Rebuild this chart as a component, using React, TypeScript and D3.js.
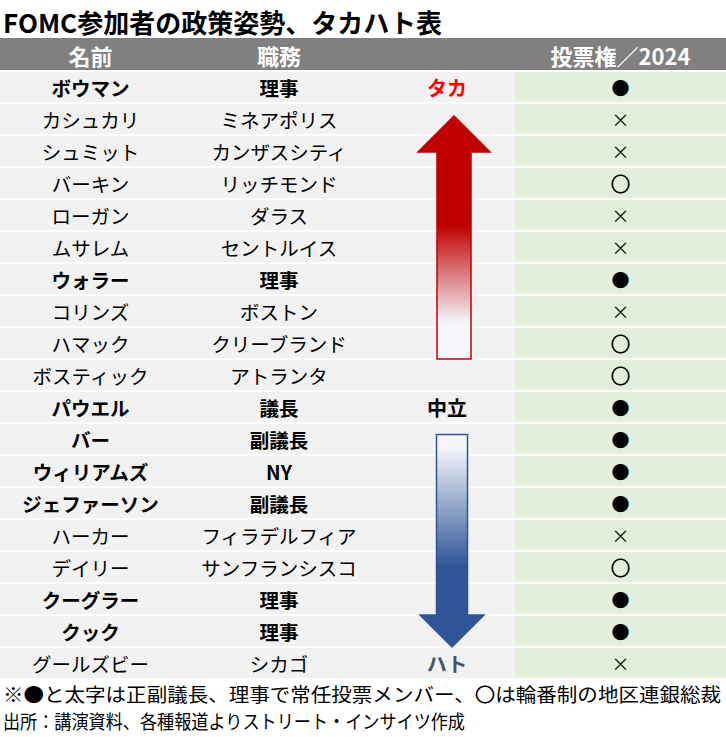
import React from "react";
import * as d3 from "d3";

// table contents
const names = [
  "ボウマン", "カシュカリ", "シュミット", "バーキン", "ローガン", "ムサレム", "ウォラー",
  "コリンズ", "ハマック", "ボスティック", "パウエル", "バー", "ウィリアムズ", "ジェファーソン",
  "ハーカー", "デイリー", "クーグラー", "クック", "グールズビー",
];
const roles = [
  "理事", "ミネアポリス", "カンザスシティ", "リッチモンド", "ダラス", "セントルイス", "理事",
  "ボストン", "クリーブランド", "アトランタ", "議長", "副議長", "NY", "副議長",
  "フィラデルフィア", "サンフランシスコ", "理事", "理事", "シカゴ",
];
const votes = [
  "●", "×", "×", "〇", "×", "×", "●", "×", "〇", "〇",
  "●", "●", "●", "●", "×", "〇", "●", "●", "×",
];
const bold = [
  true, false, false, false, false, false, true, false, false, false,
  true, true, true, true, false, false, true, true, false,
];
const headers = ["名前", "職務", "", "投票権／2024"];
const stances = [
  { row: 0, label: "タカ", color: "#FF0000" },
  { row: 10, label: "中立", color: "#000000" },
  { row: 18, label: "ハト", color: "#44546A" },
];

const W = 726;
const H = 737;
const FONT = "'Noto Sans CJK JP', 'Noto Sans', sans-serif";
const colWidths = [181, 196, 138, 211];
const headerTop = 38;
const headerBottom = 71;
const tableBottom = 679;

export default function App() {
  const colX = d3.cumsum([0, ...colWidths]);
  const col = (i: number) => ({ x0: colX[i], x1: colX[i + 1], cx: (colX[i] + colX[i + 1]) / 2 });

  const y = d3
    .scaleBand<number>()
    .domain(d3.range(names.length))
    .range([headerBottom, tableBottom])
    .padding(0);
  const rh = y.bandwidth();
  const cy = (i: number) => (y(i) as number) + rh / 2;

  // arrows placed in row units
  const upCx = col(2).cx + 8;
  const upTip = (y(1) as number) + 13;
  const upBase = (y(2) as number) + 17;
  const upBottom = y(9) as number;
  const upPath = d3.path();
  upPath.moveTo(upCx, upTip);
  upPath.lineTo(upCx + 36, upBase);
  upPath.lineTo(upCx + 17, upBase);
  upPath.lineTo(upCx + 17, upBottom);
  upPath.lineTo(upCx - 17, upBottom);
  upPath.lineTo(upCx - 17, upBase);
  upPath.lineTo(upCx - 36, upBase);
  upPath.closePath();

  const dnCx = col(2).cx + 6;
  const dnTop = (y(11) as number) + 11.5;
  const dnBase = y(17) as number;
  const dnTip = y(18) as number;
  const dnPath = d3.path();
  dnPath.moveTo(dnCx - 15.5, dnTop);
  dnPath.lineTo(dnCx + 15.5, dnTop);
  dnPath.lineTo(dnCx + 15.5, dnBase);
  dnPath.lineTo(dnCx + 32, dnBase);
  dnPath.lineTo(dnCx, dnTip);
  dnPath.lineTo(dnCx - 32, dnBase);
  dnPath.lineTo(dnCx - 15.5, dnBase);
  dnPath.closePath();

  return (
    <svg
      width={W}
      height={H}
      style={{ position: "absolute", left: 0, top: 0, background: "#fff", fontFamily: FONT }}
    >
      <defs>
        <linearGradient id="hawk" x1="0" y1="0" x2="0" y2="1">
          <stop offset="0" stopColor="#C00000" />
          <stop offset="0.45" stopColor="#C00000" />
          <stop offset="0.85" stopColor="#F4F6FB" />
          <stop offset="1" stopColor="#F4F6FB" />
        </linearGradient>
        <linearGradient id="dove" x1="0" y1="0" x2="0" y2="1">
          <stop offset="0" stopColor="#F4F6FB" />
          <stop offset="0.06" stopColor="#F4F6FB" />
          <stop offset="0.62" stopColor="#2F5597" />
          <stop offset="1" stopColor="#2F5597" />
        </linearGradient>
      </defs>

      <text x={3} y={21} dominantBaseline="central" fontSize={26} fontWeight="bold" fill="#000">
        FOMC参加者の政策姿勢、タカハト表
      </text>

      {/* header */}
      {headers.map((h, i) => (
        <g key={"h" + i}>
          <rect x={col(i).x0} y={headerTop} width={colWidths[i]} height={headerBottom - headerTop} fill="#808080" />
          <text x={col(i).cx} y={(headerTop + headerBottom) / 2} textAnchor="middle" dominantBaseline="central"
            fontSize={22} fontWeight="bold" fill="#fff">
            {h}
          </text>
        </g>
      ))}

      {/* body cells */}
      {names.map((n, r) => (
        <g key={"r" + r}>
          {[0, 1, 2, 3].map((c) => (
            <rect key={c} x={col(c).x0} y={y(r)} width={colWidths[c]} height={rh}
              fill={c === 3 ? "#E2EFDA" : "#F2F2F2"} />
          ))}
          <text x={col(0).cx} y={cy(r)} textAnchor="middle" dominantBaseline="central" fontSize={19.5}
            fontWeight={bold[r] ? "bold" : "normal"} fill="#000">{n}</text>
          <text x={col(1).cx} y={cy(r)} textAnchor="middle" dominantBaseline="central" fontSize={19.5}
            fontWeight={bold[r] ? "bold" : "normal"} fill="#000">{roles[r]}</text>
          <text x={col(3).cx} y={cy(r)} textAnchor="middle" dominantBaseline="central"
            fontSize={votes[r] === "×" ? 18 : votes[r] === "●" ? 18 : 20} fill="#000">{votes[r]}</text>
        </g>
      ))}

      {/* grid lines */}
      <g stroke="#fff" strokeWidth={2}>
        {colX.slice(1, -1).map((x, i) => (
          <line key={"v" + i} x1={x} x2={x} y1={headerTop} y2={tableBottom} />
        ))}
        {d3.range(names.length + 1).map((r) => (
          <line key={"l" + r} x1={0} x2={W} y1={(y(r) ?? tableBottom)} y2={(y(r) ?? tableBottom)} />
        ))}
      </g>

      {/* arrows */}
      <path d={upPath.toString()} fill="url(#hawk)" stroke="#C00000" strokeWidth={1.5} />
      <path d={dnPath.toString()} fill="url(#dove)" stroke="#2F5597" strokeWidth={1.5} />

      {stances.map((s) => (
        <text key={s.label} x={col(2).cx + 1} y={cy(s.row)} textAnchor="middle" dominantBaseline="central"
          fontSize={20} fontWeight="bold" fill={s.color}>{s.label}</text>
      ))}

      {/* notes */}
      <text x={3} y={693} dominantBaseline="central" fontSize={19} fill="#000" textLength={718}
        lengthAdjust="spacingAndGlyphs">
        ※●と太字は正副議長、理事で常任投票メンバー、〇は輪番制の地区連銀総裁
      </text>
      <text x={3} y={720} dominantBaseline="central" fontSize={19} fill="#000" textLength={462}
        lengthAdjust="spacingAndGlyphs">
        出所：講演資料、各種報道よりストリート・インサイツ作成
      </text>
    </svg>
  );
}
